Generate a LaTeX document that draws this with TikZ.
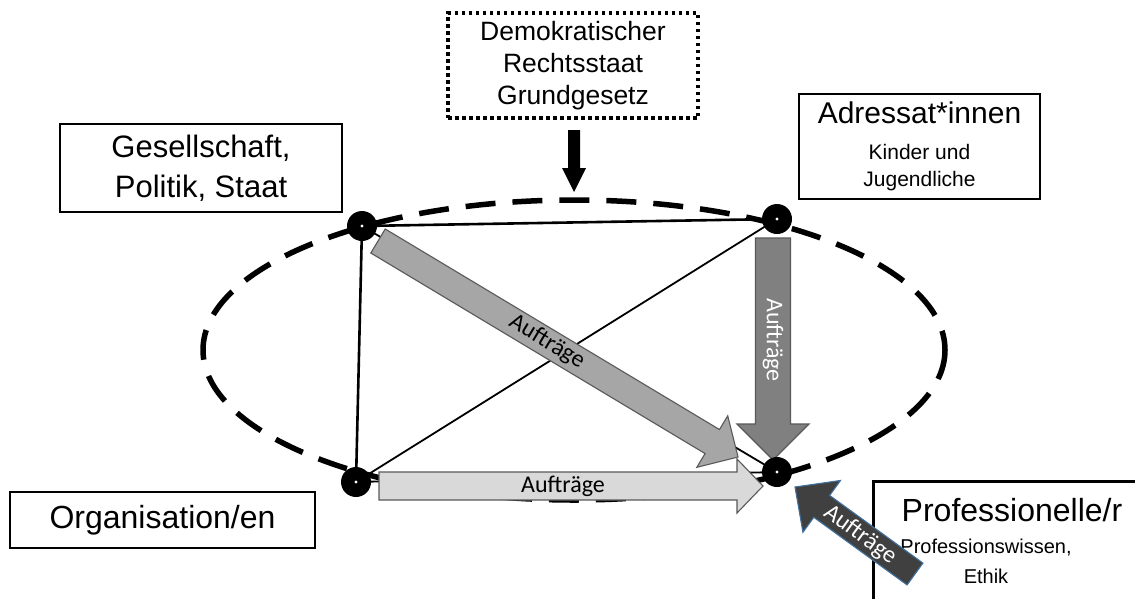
\documentclass[tikz,border=0pt]{standalone}
\usepackage{fontspec}
\setmainfont{Liberation Sans}
\newfontfamily\arrowfont{Carlito}
\usetikzlibrary{calc}
\definecolor{outlineblue}{RGB}{65,113,156}
% #1 style, #2 tail, #3 tip, #4 body half width, #5 head half width, #6 head length
\newcommand\blockarrow[6]{%
  \coordinate (ba-c) at ($(#3)!#6!(#2)$);
  \path[#1] ($(#2)!#4!90:(#3)$) -- ($(ba-c)!#4!-90:(#2)$) -- ($(ba-c)!#5!-90:(#2)$)
    -- (#3) -- ($(ba-c)!#5!90:(#2)$) -- ($(ba-c)!#4!90:(#2)$) -- ($(#2)!#4!-90:(#3)$) -- cycle;
}
\begin{document}
\begin{tikzpicture}[x=1pt,y=-1pt,
  box/.style={draw, line width=2.6pt, inner sep=0pt, align=center},
  dotbox/.style={draw, line width=3.5pt, dash pattern=on 3.5pt off 3.5pt, inner sep=0pt, align=center},
  vertex/.style={circle, fill=black, minimum size=30pt, inner sep=0pt},
  edge/.style={line width=2.6pt},
  thinedge/.style={line width=1.8pt},
  ring/.style={line width=5.5pt, dash pattern=on 30pt off 17pt},
  grayarrow/.style={fill=#1, draw=black!65, line width=1.1pt},
  albl/.style={font=\arrowfont\fontsize{24}{28}\selectfont, inner sep=0pt}
]
\useasboundingbox (0,0) rectangle (1135,598);
\fill[white] (0,0) rectangle (1135,598);

% vertices
\coordinate (tlc) at (362,226);
\coordinate (trc) at (777,219);
\coordinate (blc) at (356,482);
\coordinate (brc) at (777,472);

% frame lines
\draw[edge] (tlc) -- (trc);
\draw[edge] (tlc) -- (blc);
\draw[thinedge] (blc) -- (trc);
\draw[thinedge] (tlc) -- (brc);
\draw[thinedge] (blc) -- (brc);

% dashed ellipse
\draw[ring] (574,350) ellipse [x radius=371, y radius=150];

% professional box (under its arrow)
\node[box, anchor=north west, minimum width=300pt, minimum height=150pt] (prof) at (872,480) {};
\node[inner sep=0pt, font=\fontsize{32}{38}\selectfont] (proft) at (1012,510) {Professionelle/r};
\node[inner sep=0pt, align=center, font=\fontsize{20}{30}\selectfont] (profs) at (986,561) {Professionswissen,\\Ethik};

% block arrows
\coordinate (dA) at (378,241); \coordinate (dB) at (738,457);
\coordinate (vA) at (773,238); \coordinate (vB) at (773,460);
\coordinate (hA) at (379,486); \coordinate (hB) at (763,486);
\coordinate (pA) at (915,574); \coordinate (pB) at (795,487);

\blockarrow{grayarrow={black!35}}{dA}{dB}{14pt}{30pt}{30pt}
\blockarrow{grayarrow={black!50}}{vA}{vB}{17.5pt}{36pt}{36pt}
\blockarrow{grayarrow={black!15}}{hA}{hB}{14pt}{27pt}{26pt}
\blockarrow{{fill=black!75, draw=outlineblue, line width=1.1pt}}{pA}{pB}{13.5pt}{32pt}{33pt}

\node[albl, rotate=-31] (dlbl) at (547,342) {Auftr\"age};
\node[albl, rotate=-90, text=white] (vlbl) at (773,340) {Auftr\"age};
\node[albl] (hlbl) at (563,486) {Auftr\"age};
\node[albl, rotate=-36, text=white] (plbl) at (860,535) {Auftr\"age};

% vertex dots
\node[vertex] (tl) at (tlc) {};
\node[vertex] (tr) at (trc) {};
\node[vertex] (bl) at (blc) {};
\node[vertex] (br) at (brc) {};
\foreach \v in {tl,tr,bl,br} \fill[white] (\v) circle (1.6);

% boxes
\node[box, minimum width=282pt, minimum height=88pt, font=\fontsize{31}{40}\selectfont]
  (ges) at (201,168) {Gesellschaft,\\Politik, Staat};
\node[box, minimum width=305pt, minimum height=56pt, font=\fontsize{32}{38}\selectfont]
  (org) at (162.5,520) {Organisation/en};
\node[box, minimum width=241pt, minimum height=105pt, font=\fontsize{21}{27}\selectfont]
  (adr) at (919.5,146.5) {{\fontsize{30}{36}\selectfont Adressat*innen}\\[9pt]Kinder und\\Jugendliche};
\node[dotbox, minimum width=250pt, minimum height=105pt, font=\fontsize{26.5}{32}\selectfont]
  (demo) at (573,65.5) {Demokratischer\\Rechtsstaat\\Grundgesetz};

% black arrow from the dotted box
\coordinate (kA) at (574,130);
\coordinate (kB) at (574,192);
\blockarrow{fill=black}{kA}{kB}{6pt}{12pt}{24pt}
\end{tikzpicture}
\end{document}
